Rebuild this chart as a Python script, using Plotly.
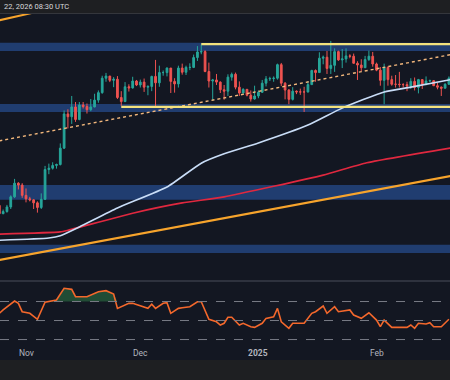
import plotly.graph_objects as go
import pandas as pd
import math

# ---------------- data (prices in thousand USD) ----------------
dates = pd.date_range("2024-10-25", "2025-02-21", freq="D")

open_ = [68.2, 66.6, 67.0, 67.9, 69.9, 72.7, 72.3,
         70.2, 69.5, 69.3, 68.7, 67.8, 69.4, 75.6, 75.9, 76.5, 76.7, 80.4, 88.7, 88.0, 90.5, 87.3,
         91.0, 90.6, 89.8, 90.5, 92.3, 94.3, 98.3, 98.9, 97.7, 98.0, 93.0, 91.9, 95.9, 95.6, 97.5,
         96.4, 97.2, 95.8, 96.0, 98.8, 97.0, 99.9, 99.9, 101.2, 97.4, 96.7, 101.2, 100.0, 101.4, 101.4,
         104.3, 106.0, 106.1, 100.2, 97.5, 97.8, 97.2, 95.1, 94.7, 98.6, 99.4, 95.8, 94.2, 95.2, 93.6, 92.6,
         93.4, 94.4, 96.9, 98.1, 98.2, 98.3, 102.2, 96.9, 95.0, 92.5, 94.7, 94.5, 94.5, 94.5, 96.5, 100.5,
         99.9, 104.1, 104.4, 101.1, 102.0, 106.1, 103.6, 103.9, 104.8, 104.7, 102.6, 102.1, 101.3, 103.7, 104.7,
         102.4, 100.6, 97.7, 101.4, 97.9, 96.6, 96.6, 96.5, 96.5, 96.1, 97.4, 95.7, 97.9, 96.6, 97.5, 97.6,
         96.2, 95.8, 95.5, 96.6, 98.3]
high = [68.8, 67.4, 68.3, 70.2, 73.6, 72.9, 72.7,
        71.6, 69.9, 69.4, 69.0, 70.6, 76.4, 76.9, 77.2, 76.9, 81.5, 89.6, 89.9, 93.4, 91.8, 91.8,
        91.8, 91.4, 92.6, 94.0, 94.9, 99.0, 99.8, 98.9, 98.6, 98.9, 94.7, 97.2, 96.6, 98.7, 97.8,
        97.9, 98.2, 96.3, 99.0, 103.6, 101.9, 100.5, 101.4, 101.2, 98.3, 101.9, 102.5, 101.9, 102.6, 105.2,
        107.8, 108.3, 106.5, 102.8, 98.1, 99.5, 97.4, 96.4, 99.4, 99.9, 99.9, 97.4, 95.5, 95.2, 94.9, 96.2,
        94.9, 97.8, 98.9, 98.7, 98.8, 102.5, 102.7, 97.2, 95.3, 95.8, 94.9, 95.4, 95.9, 97.4, 100.7, 100.8,
        105.9, 104.9, 106.3, 109.4, 107.1, 106.4, 106.9, 107.1, 105.3, 105.5, 103.2, 103.8, 104.8, 106.4, 106.0,
        102.8, 101.5, 102.5, 101.7, 99.0, 99.2, 100.1, 96.9, 97.3, 98.3, 98.5, 98.1, 98.0, 98.8, 97.9,
        97.7, 97.0, 96.0, 96.9, 98.8, 99.5]
low = [65.5, 66.5, 66.8, 67.5, 69.7, 71.4, 69.7,
       68.8, 69.0, 67.5, 66.8, 67.5, 69.3, 74.6, 75.6, 75.8, 76.5, 80.2, 85.1, 86.2, 86.7, 87.1,
       90.1, 88.8, 89.4, 90.4, 91.6, 94.0, 97.3, 97.2, 95.8, 92.6, 90.8, 91.8, 94.6, 95.4, 96.1,
       95.7, 94.5, 93.6, 94.7, 90.5, 95.9, 99.0, 98.8, 94.2, 94.3, 95.7, 99.3, 99.2, 100.6, 101.2,
       103.3, 105.3, 100.0, 95.7, 92.2, 96.4, 94.2, 92.4, 93.4, 97.6, 95.2, 93.4, 94.1, 93.3, 91.9, 92.4,
       92.8, 94.2, 96.0, 97.5, 97.3, 97.9, 96.1, 92.5, 91.2, 92.2, 93.9, 93.7, 89.2, 94.3, 96.5, 97.3,
       99.9, 102.3, 99.5, 99.5, 100.1, 103.3, 101.2, 102.8, 104.1, 102.5, 97.8, 100.3, 101.3, 103.3, 101.6,
       100.3, 96.2, 91.2, 96.2, 96.2, 95.7, 95.7, 95.7, 94.7, 95.3, 94.9, 94.1, 95.3, 96.3, 97.3,
       96.1, 95.2, 93.4, 95.5, 96.4, 94.9]
close = [66.6, 67.0, 67.9, 69.9, 72.7, 72.3, 70.2,
         69.5, 69.3, 68.7, 67.8, 69.4, 75.6, 75.9, 76.5, 76.7, 80.4, 88.7, 88.0, 90.5, 87.3, 91.0,
         90.6, 89.8, 90.5, 92.3, 94.3, 98.3, 98.9, 97.7, 98.0, 93.0, 91.9, 95.9, 95.6, 97.5, 96.4,
         97.2, 95.8, 96.0, 98.8, 97.0, 99.9, 99.9, 101.2, 97.4, 96.7, 101.2, 100.0, 101.4, 101.4, 104.3,
         106.0, 106.1, 100.2, 97.5, 97.8, 97.2, 95.1, 94.7, 98.6, 99.4, 95.8, 94.2, 95.2, 93.6, 92.6, 93.4,
         94.4, 96.9, 98.1, 98.2, 98.3, 102.2, 96.9, 95.0, 92.5, 94.7, 94.5, 94.5, 94.5, 96.5, 100.5, 99.9,
         104.1, 104.4, 101.1, 102.0, 106.1, 103.6, 103.9, 104.8, 104.7, 102.6, 102.1, 101.3, 103.7, 104.7, 102.4,
         100.6, 97.7, 101.4, 97.9, 96.6, 96.6, 96.5, 96.5, 96.1, 97.4, 95.7, 97.9, 96.6, 97.5, 97.6,
         96.2, 95.8, 95.5, 96.6, 98.3, 96.1]

# moving averages
ma50_dates = ["2024-10-25", "2024-11-07", "2024-11-10", "2024-11-15", "2024-11-25", "2024-12-08",
              "2024-12-17", "2024-12-23", "2025-01-01", "2025-01-14", "2025-01-23", "2025-02-03",
              "2025-02-10", "2025-02-21"]
ma50_vals = [61.7, 62.1, 62.5, 64.1, 67.7, 71.9, 77.0, 79.1, 81.6, 85.9, 90.2, 94.5, 95.8, 98.0]

ma200_dates = ["2024-10-25", "2024-11-10", "2024-11-12", "2024-11-29", "2024-12-12", "2024-12-23",
               "2025-01-18", "2025-01-29", "2025-02-21"]
ma200_vals = [62.8, 63.2, 63.5, 66.7, 68.7, 69.9, 74.4, 77.0, 80.5]

trend_dates = ["2024-10-25", "2025-02-21"]
orange_line = [58.3, 74.3]
dotted_line = [82.1, 105.3]
top_seg_dates = ["2024-10-25", "2024-11-03"]
top_seg_vals = [116.1, 118.7]

range_top = 108.4
range_top_start = "2024-12-17"
range_bot = 90.5
range_bot_start = "2024-11-26"

zones = [(106.3, 108.8), (89.2, 91.3), (69.3, 72.3), (59.5, 60.9)]

# RSI
rsi_days = [-7, -6, -3, -2, -1, 1, 3, 5, 8, 10, 12, 13, 16, 19, 21, 23, 24, 27, 28, 30, 32, 33, 34,
            36, 37, 38, 40, 41, 43, 45, 46, 48, 50, 51, 52, 53, 54, 56, 57, 59, 60, 62, 63, 65, 66,
            67, 69, 70, 73, 75, 76, 78, 79, 81, 82, 85, 86, 88, 90, 92, 93, 94, 96, 100, 101, 102,
            103, 105, 106, 107, 109, 111]
rsi_vals = [57.6, 61.1, 70.5, 68.1, 59.3, 57.6, 51.3, 69.2, 71.6, 83.9, 82.8, 75.1, 75.1, 80.3, 81.4,
            77.9, 62.8, 68.1, 68.1, 65.3, 62.8, 67.1, 62.8, 68.1, 68.7, 57.6, 62.8, 63.5, 64.5, 69.8,
            69.8, 51.3, 48.7, 45.3, 47.1, 53.4, 53.4, 45.3, 47.1, 43.5, 42.8, 47.1, 52.3, 54.0, 62.8,
            48.7, 41.8, 47.1, 47.1, 57.6, 59.3, 65.3, 57.6, 64.5, 59.3, 61.1, 55.8, 52.3, 58.2, 50.5,
            43.5, 50.5, 42.8, 42.8, 45.3, 41.8, 47.1, 46.3, 47.7, 43.5, 43.5, 51.3]
rsi_levels = [70, 50, 30]

month_ticks = ["2024-11-01", "2024-12-01", "2025-01-01", "2025-02-01"]
month_labels = ["Nov", "Dec", "<b>2025</b>", "Feb"]
header_text = "22, 2026 08:30 UTC"

# ---------------- figure ----------------
W, H = 450, 380
BG = "#131722"
nov1 = pd.Timestamp("2024-11-01")
rsi_dates = [nov1 + pd.Timedelta(days=d) for d in rsi_days]
x_range = [nov1 - pd.Timedelta(days=26 / 3.81), nov1 + pd.Timedelta(days=424 / 3.81)]

def py(px):
    return 1 - px / H

fig = go.Figure()

fig.add_trace(go.Candlestick(
    x=dates, open=open_, high=high, low=low, close=close,
    increasing=dict(line=dict(color="#26a69a", width=1), fillcolor="#26a69a"),
    decreasing=dict(line=dict(color="#ef5350", width=1), fillcolor="#ef5350"),
    whiskerwidth=0, xaxis="x", yaxis="y", showlegend=False, hoverinfo="skip"))

fig.add_trace(go.Scatter(x=trend_dates, y=orange_line, mode="lines",
                         line=dict(color="#f7a42c", width=2.4), xaxis="x", yaxis="y"))
fig.add_trace(go.Scatter(x=top_seg_dates, y=top_seg_vals, mode="lines",
                         line=dict(color="#f7a42c", width=2), xaxis="x", yaxis="y"))
fig.add_trace(go.Scatter(x=ma200_dates, y=ma200_vals, mode="lines",
                         line=dict(color="#e0283f", width=1.6, shape="spline", smoothing=0.5),
                         xaxis="x", yaxis="y"))
fig.add_trace(go.Scatter(x=ma50_dates, y=ma50_vals, mode="lines",
                         line=dict(color="#c9ddf7", width=1.6, shape="spline", smoothing=0.5),
                         xaxis="x", yaxis="y"))
fig.add_trace(go.Scatter(x=trend_dates, y=dotted_line, mode="lines",
                         line=dict(color="#f2b77c", width=1.4, dash="dot"), xaxis="x", yaxis="y"))
fig.add_trace(go.Scatter(x=[range_top_start, "2025-02-25"], y=[range_top, range_top], mode="lines",
                         line=dict(color="#f3e27c", width=2.2), xaxis="x", yaxis="y"))
fig.add_trace(go.Scatter(x=[range_bot_start, "2025-02-25"], y=[range_bot, range_bot], mode="lines",
                         line=dict(color="#f3e27c", width=2.2), xaxis="x", yaxis="y"))

# RSI overbought fill
fig.add_trace(go.Scatter(x=rsi_dates, y=[70] * len(rsi_vals), mode="lines",
                         line=dict(width=0), xaxis="x2", yaxis="y2", hoverinfo="skip"))
fig.add_trace(go.Scatter(x=rsi_dates, y=[max(v, 70) for v in rsi_vals], mode="lines",
                         line=dict(width=0), fill="tonexty", fillcolor="rgba(46,120,70,0.55)",
                         xaxis="x2", yaxis="y2", hoverinfo="skip"))
fig.add_trace(go.Scatter(x=rsi_dates, y=rsi_vals, mode="lines",
                         line=dict(color="#f4682c", width=1.6), xaxis="x2", yaxis="y2"))

shapes = []
for lo, hi in zones:
    shapes.append(dict(type="rect", xref="paper", yref="y", x0=0, x1=1, y0=lo, y1=hi,
                       fillcolor="#203d70", line=dict(width=0), layer="below"))
for lv in rsi_levels:
    shapes.append(dict(type="line", xref="paper", yref="y2", x0=0, x1=1, y0=lv, y1=lv,
                       line=dict(color="#787b86", width=1, dash="dash")))
shapes.append(dict(type="line", xref="paper", yref="paper", x0=0, x1=1, y0=py(281), y1=py(281),
                   line=dict(color="#4a4e5a", width=1)))
shapes.append(dict(type="rect", xref="paper", yref="paper", x0=0, x1=1, y0=py(13.5), y1=1,
                   fillcolor="#1e1f22", line=dict(width=0)))
shapes.append(dict(type="line", xref="paper", yref="paper", x0=0, x1=1, y0=py(13.5), y1=py(13.5),
                   line=dict(color="#34363c", width=1)))
shapes.append(dict(type="rect", xref="paper", yref="paper", x0=0, x1=1, y0=0, y1=py(360),
                   fillcolor="#1e1f22", line=dict(width=0)))

annotations = [dict(x=2 / W, y=py(7), xref="paper", yref="paper", text=header_text,
                    showarrow=False, xanchor="left", yanchor="middle",
                    font=dict(family="Roboto, Liberation Sans, sans-serif", size=7.5, color="#d8d9dc"))]
for t, lab in zip(month_ticks, month_labels):
    annotations.append(dict(x=t, y=py(353), xref="x2", yref="paper", text=lab, showarrow=False,
                            xanchor="center", yanchor="middle",
                            font=dict(family="Roboto, Liberation Sans, sans-serif", size=8.5,
                                      color="#b2b5be")))

fig.update_layout(
    width=W, height=H, margin=dict(l=0, r=0, t=0, b=0),
    paper_bgcolor=BG, plot_bgcolor=BG, showlegend=False, hovermode=False,
    xaxis=dict(domain=[0, 1], anchor="y", type="date", range=x_range, visible=False,
               rangeslider=dict(visible=False), showgrid=False),
    yaxis=dict(domain=[py(281), py(14)], type="log",
               range=[math.log10(54.886), math.log10(118.21)], visible=False, showgrid=False),
    xaxis2=dict(domain=[0, 1], anchor="y2", type="date", range=x_range, visible=False,
                showgrid=False),
    yaxis2=dict(domain=[py(346), py(281)], range=[23.2, 91.6], visible=False, showgrid=False),
    shapes=shapes, annotations=annotations, boxgap=0.35,
)

fig.write_html("out.html", config={"displayModeBar": False, "staticPlot": True},
               post_script="document.body.style.margin='0';document.body.style.background='#131722';")
